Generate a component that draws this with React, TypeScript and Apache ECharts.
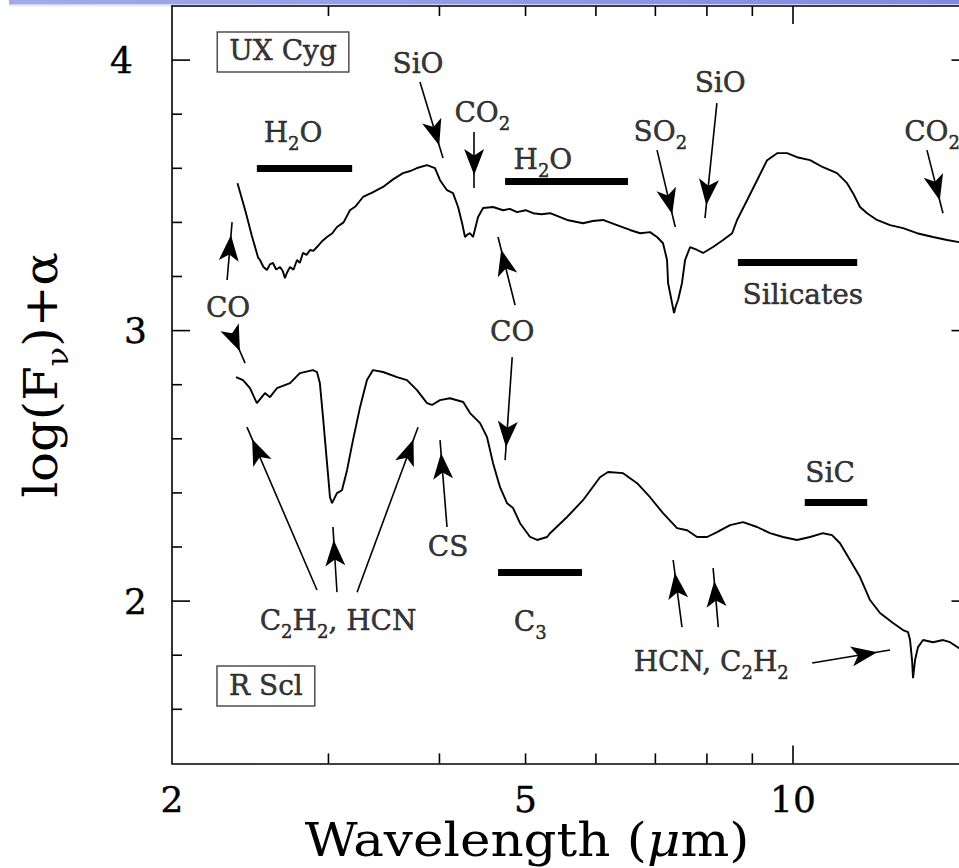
import React, { useEffect, useRef } from 'react';
import * as echarts from 'echarts';

const X_MIN = 2;
const X_MAX = 15.8;
const Y_MIN = 1.4;
const Y_MAX = 4.2;

// wavelength (micron), log(F_nu)+alpha
const uxCyg: [number, number][] = [
  [2.37, 3.545], [2.42, 3.44], [2.46, 3.35], [2.5, 3.27], [2.512, 3.261], [2.535, 3.235], [2.558, 3.224],
  [2.578, 3.245], [2.598, 3.25], [2.62, 3.226], [2.646, 3.235], [2.665, 3.22], [2.68, 3.194], [2.695, 3.215],
  [2.716, 3.235], [2.74, 3.225], [2.765, 3.261], [2.785, 3.25], [2.808, 3.287], [2.835, 3.28], [2.86, 3.298],
  [2.885, 3.295], [2.912, 3.309], [2.95, 3.33], [2.989, 3.346], [3.03, 3.36], [3.067, 3.383], [3.12, 3.4],
  [3.172, 3.445], [3.22, 3.46], [3.281, 3.494], [3.36, 3.51], [3.456, 3.531], [3.55, 3.56], [3.639, 3.582],
  [3.71, 3.59], [3.774, 3.601], [3.873, 3.612], [3.954, 3.601], [4.006, 3.556], [4.079, 3.519], [4.143, 3.508],
  [4.198, 3.457], [4.242, 3.397], [4.274, 3.346], [4.3, 3.355], [4.33, 3.36], [4.364, 3.346], [4.421, 3.42],
  [4.479, 3.453], [4.596, 3.457], [4.717, 3.445], [4.8, 3.45], [4.891, 3.438], [5.0, 3.445], [5.099, 3.434],
  [5.21, 3.43], [5.328, 3.434], [5.568, 3.409], [5.803, 3.397], [5.95, 3.405], [6.111, 3.409], [6.337, 3.39],
  [6.554, 3.372], [6.73, 3.36], [6.904, 3.364], [7.03, 3.346], [7.14, 3.323], [7.215, 3.261], [7.234, 3.176],
  [7.309, 3.102], [7.347, 3.065], [7.38, 3.09], [7.424, 3.113], [7.5, 3.176], [7.56, 3.261], [7.66, 3.309],
  [7.799, 3.298], [7.921, 3.287], [8.128, 3.309], [8.343, 3.335], [8.54, 3.36], [8.651, 3.409], [8.878, 3.482],
  [9.111, 3.556], [9.352, 3.63], [9.596, 3.656], [9.848, 3.656], [10.105, 3.641], [10.452, 3.63], [10.809, 3.604],
  [11.209, 3.582], [11.503, 3.545], [11.683, 3.508], [11.897, 3.457], [12.117, 3.434], [12.432, 3.409],
  [12.86, 3.39], [13.3, 3.379], [13.791, 3.36], [14.376, 3.346], [14.907, 3.335], [15.38, 3.327], [15.8, 3.32],
];

const rScl: [number, number][] = [
  [2.361, 2.828], [2.404, 2.817], [2.448, 2.787], [2.492, 2.732], [2.545, 2.769], [2.578, 2.754], [2.625, 2.787],
  [2.716, 2.806], [2.786, 2.843], [2.882, 2.854], [2.912, 2.847], [2.934, 2.806], [2.958, 2.68], [2.989, 2.51],
  [3.012, 2.384], [3.028, 2.362], [3.067, 2.399], [3.107, 2.41], [3.148, 2.484], [3.197, 2.595], [3.256, 2.717],
  [3.315, 2.817], [3.367, 2.854], [3.456, 2.847], [3.583, 2.828], [3.677, 2.817], [3.774, 2.78], [3.873, 2.732],
  [3.923, 2.725], [4.006, 2.743], [4.11, 2.75], [4.254, 2.736], [4.33, 2.695], [4.444, 2.658], [4.525, 2.606],
  [4.596, 2.51], [4.68, 2.421], [4.766, 2.362], [4.841, 2.344], [4.929, 2.288], [5.059, 2.237], [5.152, 2.226],
  [5.287, 2.237], [5.328, 2.251], [5.568, 2.311], [5.803, 2.373], [6.064, 2.458], [6.192, 2.477], [6.438, 2.473],
  [6.676, 2.436], [6.904, 2.384], [7.14, 2.325], [7.404, 2.27], [7.6, 2.262], [7.799, 2.237], [8.004, 2.237],
  [8.213, 2.255], [8.495, 2.281], [8.786, 2.292], [9.111, 2.274], [9.422, 2.251], [9.745, 2.237], [10.105, 2.226],
  [10.452, 2.237], [10.809, 2.251], [11.064, 2.244], [11.296, 2.214], [11.592, 2.152], [11.897, 2.089],
  [12.209, 2.004], [12.529, 1.956], [12.959, 1.919], [13.3, 1.893], [13.474, 1.885], [13.544, 1.856],
  [13.614, 1.782], [13.649, 1.715], [13.72, 1.782], [13.827, 1.83], [14.008, 1.856], [14.376, 1.848],
  [14.754, 1.856], [15.024, 1.848], [15.38, 1.826], [15.8, 1.82],
];

const xMinorTicks = [3, 4, 5, 6, 7, 8, 9];
const xMajorTicks = [10];
const xTickLabels = [2, 5, 10];
const yMinorTicks = [1.6, 1.8, 2.2, 2.4, 2.6, 2.8, 3.2, 3.4, 3.6, 3.8];
const yMajorTicks = [2, 3, 4];

// annotation texts ("_x" marks a subscript character)
const labelTexts = [
  'UX Cyg', 'H_2O', 'SiO', 'CO_2', 'H_2O', 'SO_2', 'SiO', 'Silicates', 'CO_2', 'CO', 'CO',
  'C_2H_2, HCN', 'CS', 'C_3', 'HCN, C_2H_2', 'SiC', 'R Scl',
];
const labelX = [2.667, 2.737, 3.784, 4.47, 5.23, 7.09, 8.28, 10.26, 14.34, 2.313, 4.83, 3.076, 4.09, 5.06, 8.09, 11.01, 2.551];
const labelY = [4.03, 3.73, 3.985, 3.804, 3.63, 3.734, 3.915, 3.131, 3.734, 3.083, 2.994, 1.925, 2.2, 1.922, 1.774, 2.47, 1.686];
const boxedLabels = ['UX Cyg', 'R Scl'];

// arrows: [fromX, fromY, toX, toY]
const arrows: [number, number, number, number][] = [
  [3.803, 3.919, 4.037, 3.638],
  [4.376, 3.734, 4.376, 3.527],
  [7.03, 3.667, 7.37, 3.383],
  [8.21, 3.841, 7.96, 3.416],
  [14.15, 3.667, 14.75, 3.434],
  [2.307, 3.187, 2.337, 3.401],
  [2.337, 2.991, 2.417, 2.88],
  [4.866, 3.094, 4.656, 3.346],
  [4.83, 2.902, 4.742, 2.521],
  [2.912, 2.041, 2.429, 2.643],
  [3.067, 2.033, 3.035, 2.274],
  [3.231, 2.033, 3.784, 2.643],
  [4.079, 2.274, 4.006, 2.595],
  [7.5, 1.904, 7.33, 2.152],
  [8.24, 1.904, 8.13, 2.122],
  [10.51, 1.771, 12.86, 1.819],
];

// band bars: [fromX, toX, y]
const bands: [number, number, number][] = [
  [2.492, 3.19, 3.601],
  [4.742, 6.52, 3.551],
  [8.67, 11.81, 3.253],
  [4.656, 5.788, 2.107],
  [10.31, 12.12, 2.366],
];

const FONT = 'DejaVu Serif';

function toRich(t: string): string {
  let out = '';
  let buf = '';
  for (let i = 0; i < t.length; i++) {
    if (t[i] === '_') {
      if (buf) out += `{m|${buf}}`;
      buf = '';
      out += `{s|${t[i + 1]}}`;
      i++;
    } else {
      buf += t[i];
    }
  }
  if (buf) out += `{m|${buf}}`;
  return out;
}

const thick = { textBorderColor: '#000', textBorderWidth: 0.5 };

const richStyles = {
  m: { fontSize: 28, fontFamily: FONT, color: '#000', lineHeight: 30, verticalAlign: 'top', ...thick },
  s: { fontSize: 18, fontFamily: FONT, color: '#000', lineHeight: 18, verticalAlign: 'top', padding: [16, 0, 0, 0], ...thick },
};

export default function App() {
  const ref = useRef<HTMLDivElement>(null);

  useEffect(() => {
    if (!ref.current) return;
    const chart = echarts.init(ref.current, undefined, { renderer: 'svg' });

    const tickData: number[][] = [];
    xMinorTicks.forEach((v) => tickData.push([v, Y_MIN, 0]));
    xMajorTicks.forEach((v) => tickData.push([v, Y_MIN, 1]));
    yMinorTicks.forEach((v) => tickData.push([X_MIN, v, 2]));
    yMajorTicks.forEach((v) => tickData.push([X_MIN, v, 3]));
    xTickLabels.forEach((v) => tickData.push([v, Y_MIN, 4]));

    const stroke = { stroke: '#000', lineWidth: 1.6 };

    const labelData = labelTexts.map((t, i) => {
      const boxed = boxedLabels.indexOf(t) >= 0;
      return {
        value: [labelX[i], labelY[i]],
        label: boxed
          ? {
              formatter: toRich(t),
              borderColor: '#222',
              borderWidth: 1.5,
              padding: [5, 12, 5, 12],
            }
          : { formatter: toRich(t) },
      };
    });

    const option: any = {
      animation: false,
      backgroundColor: '#fff',
      grid: {
        left: 172, top: 6, width: 797.5, height: 757.4,
        containLabel: false, outerBoundsMode: 'none',
      },
      xAxis: [
        {
          type: 'log', logBase: 10, min: X_MIN, max: X_MAX, position: 'bottom',
          axisLine: { show: true, lineStyle: { color: '#000', width: 1.6 } },
          axisTick: { show: false }, axisLabel: { show: false }, splitLine: { show: false },
        },
        {
          type: 'log', logBase: 10, min: X_MIN, max: X_MAX, position: 'top',
          axisLine: { show: true, lineStyle: { color: '#000', width: 1.6 } },
          axisTick: { show: false }, axisLabel: { show: false }, splitLine: { show: false },
        },
      ],
      yAxis: [
        {
          type: 'value', min: Y_MIN, max: Y_MAX, interval: 0.2, position: 'left',
          axisLine: { show: true, lineStyle: { color: '#000', width: 1.6 } },
          axisTick: { show: false }, splitLine: { show: false },
          axisLabel: {
            show: true, margin: 25, fontSize: 36, fontFamily: FONT, color: '#000',
            textBorderColor: '#000', textBorderWidth: 0.4,
            formatter: (v: number) => {
              if (Math.abs(v - Math.round(v)) > 1e-6) return '';
              const r = Math.round(v);
              return r === 4 ? `{w|${r}}` : String(r);
            },
            rich: {
              w: {
                fontSize: 36, fontFamily: FONT, color: '#000', padding: [0, 14, 0, 0],
                textBorderColor: '#000', textBorderWidth: 0.4,
              },
            },
          },
        },
        {
          type: 'value', min: Y_MIN, max: Y_MAX, interval: 0.2, position: 'right',
          axisLine: { show: true, lineStyle: { color: '#000', width: 1.6 } },
          axisTick: { show: false }, splitLine: { show: false }, axisLabel: { show: false },
        },
      ],
      graphic: [
        {
          type: 'rect', shape: { x: 9, y: 0, width: 950, height: 4 }, silent: true,
          style: {
            fill: new echarts.graphic.LinearGradient(0, 0, 1, 0, [
              { offset: 0, color: '#a3aae8' },
              { offset: 1, color: '#7e8adc' },
            ]),
          },
        },
        {
          type: 'rect', shape: { x: 9, y: 4, width: 950, height: 3 }, silent: true,
          style: {
            fill: new echarts.graphic.LinearGradient(0, 0, 0, 1, [
              { offset: 0, color: '#c9cdf2' },
              { offset: 1, color: '#ffffff' },
            ]),
          },
        },
        {
          type: 'text', x: 527, y: 840, scaleX: 1.12, silent: true,
          style: {
            text: '{a|Wavelength (}{i|μ}{a|m)}',
            align: 'center', verticalAlign: 'middle',
            rich: {
              a: { fontSize: 46, lineHeight: 46, fontFamily: FONT, color: '#000' },
              i: { fontSize: 46, lineHeight: 46, fontFamily: FONT, fontStyle: 'italic', color: '#000' },
            },
          },
        },
        {
          type: 'text', x: 42, y: 375, rotation: Math.PI / 2, scaleX: 1.08, silent: true,
          style: {
            text: '{a|log(F}{s|ν}{a|)+α}',
            align: 'center', verticalAlign: 'middle',
            rich: {
              a: { fontSize: 46, fontFamily: FONT, color: '#000', lineHeight: 48, verticalAlign: 'top' },
              s: { fontSize: 30, fontFamily: FONT, color: '#000', lineHeight: 30, verticalAlign: 'top', padding: [24, 0, 0, 0] },
            },
          },
        },
      ],
      series: [
        {
          name: 'UX Cyg', type: 'line', data: uxCyg, showSymbol: false, silent: true,
          lineStyle: { color: '#000', width: 1.9 }, itemStyle: { color: '#000' },
          markLine: {
            silent: true, animation: false,
            symbol: ['none', 'arrow'], symbolSize: [15, 26], symbolOffset: [[0, 0], [0, 13]],
            lineStyle: { color: '#000', width: 1.6, type: 'solid' },
            itemStyle: { color: '#000' },
            label: { show: false },
            emphasis: { disabled: true },
            data: arrows.map((a) => [{ coord: [a[0], a[1]] }, { coord: [a[2], a[3]] }]),
          },
        },
        {
          name: 'R Scl', type: 'line', data: rScl, showSymbol: false, silent: true,
          lineStyle: { color: '#000', width: 1.9 }, itemStyle: { color: '#000' },
          markLine: {
            silent: true, animation: false,
            symbol: ['none', 'none'],
            lineStyle: { color: '#000', width: 7, type: 'solid', cap: 'butt' },
            label: { show: false },
            emphasis: { disabled: true },
            data: bands.map((b) => [{ coord: [b[0], b[2]] }, { coord: [b[1], b[2]] }]),
          },
        },
        {
          name: 'labels', type: 'scatter', data: labelData, symbolSize: 1, silent: true,
          itemStyle: { color: 'rgba(0,0,0,0)' },
          label: { show: true, position: 'inside', rich: richStyles, color: '#000' },
        },
        {
          name: 'ticks', type: 'custom', data: tickData, silent: true, clip: false,
          renderItem: (params: any, api: any) => {
            const x = api.value(0);
            const y = api.value(1);
            const kind = api.value(2);
            const cs = params.coordSys;
            const top = cs.y;
            const bottom = cs.y + cs.height;
            const left = cs.x;
            const right = cs.x + cs.width;
            if (kind === 0 || kind === 1) {
              const len = kind === 1 ? 18 : 10;
              const px = api.coord([x, Y_MIN])[0];
              return {
                type: 'group',
                children: [
                  { type: 'line', shape: { x1: px, y1: bottom, x2: px, y2: bottom - len }, style: stroke },
                  { type: 'line', shape: { x1: px, y1: top, x2: px, y2: top + len }, style: stroke },
                ],
              };
            }
            if (kind === 2 || kind === 3) {
              const len = kind === 3 ? 18 : 10;
              const py = api.coord([X_MIN, y])[1];
              return {
                type: 'group',
                children: [
                  { type: 'line', shape: { x1: left, y1: py, x2: left + len, y2: py }, style: stroke },
                  { type: 'line', shape: { x1: right, y1: py, x2: right - len, y2: py }, style: stroke },
                ],
              };
            }
            const p = api.coord([x, Y_MIN]);
            return {
              type: 'text',
              x: p[0], y: bottom + 18,
              style: {
                text: String(x), fontSize: 36, fontFamily: FONT, fill: '#000',
                stroke: '#000', lineWidth: 0.4,
                align: 'center', verticalAlign: 'top',
              },
            };
          },
        },
      ],
    };

    chart.setOption(option);
    return () => chart.dispose();
  }, []);

  return (
    <div
      ref={ref}
      style={{ position: 'absolute', left: 0, top: 0, width: 959, height: 868, background: '#fff' }}
    />
  );
}
